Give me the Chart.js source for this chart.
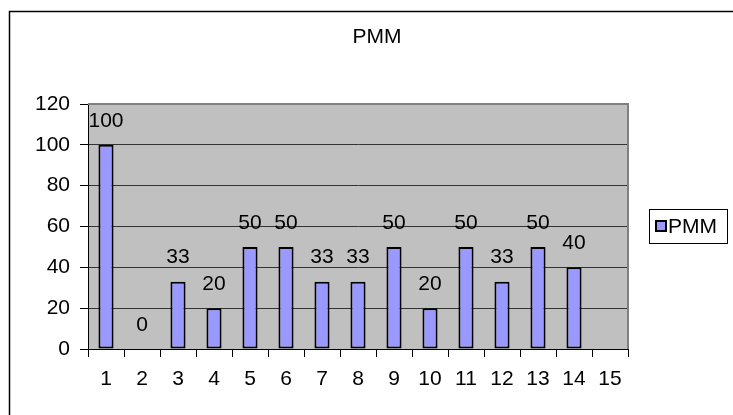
<!DOCTYPE html>
<html>
<head>
<meta charset="utf-8">
<script src="https://cdn.jsdelivr.net/npm/chart.js@4/dist/chart.umd.min.js"></script>
<style>
  html, body { margin: 0; padding: 0; background: #fff; }
  #wrap { width: 733px; height: 415px; position: relative; }
</style>
</head>
<body>
<div id="wrap"><canvas id="c" width="733" height="415"></canvas></div>
<script>
// Chart content
const chartTitle = 'PMM';
const seriesName = 'PMM';
const categories = ['1', '2', '3', '4', '5', '6', '7', '8', '9', '10', '11', '12', '13', '14', '15'];
const pmmValues = [100, 0, 33, 20, 50, 50, 33, 33, 50, 20, 50, 33, 50, 40, null];
const yTicks = [0, 20, 40, 60, 80, 100, 120];

const FONT = "'Liberation Sans', Arial, sans-serif";
const FONT_SIZE = 21;
const PLOT_BG = '#C0C0C0';
const BAR_FILL = '#9999FF';

// Page background, outer frame and plot-area fill
const backdrop = {
  id: 'backdrop',
  beforeDraw(chart) {
    const { ctx, chartArea: a } = chart;
    ctx.save();
    ctx.fillStyle = '#fff';
    ctx.fillRect(0, 0, chart.width, chart.height);
    ctx.strokeStyle = '#000';
    ctx.lineWidth = 1.5;
    ctx.beginPath();
    ctx.moveTo(9.5, chart.height + 5);
    ctx.lineTo(9.5, 11.5);
    ctx.lineTo(chart.width + 5, 11.5);
    ctx.stroke();
    ctx.fillStyle = PLOT_BG;
    ctx.fillRect(a.left, a.top, a.right - a.left, a.bottom - a.top);
    ctx.restore();
  }
};

// Value labels above each bar
const valueLabels = {
  id: 'valueLabels',
  afterDatasetsDraw(chart) {
    const { ctx } = chart;
    const meta = chart.getDatasetMeta(0);
    const yScale = chart.scales.y;
    ctx.save();
    ctx.font = FONT_SIZE + 'px ' + FONT;
    ctx.fillStyle = '#000';
    ctx.textAlign = 'center';
    ctx.textBaseline = 'middle';
    meta.data.forEach((bar, i) => {
      const v = pmmValues[i];
      if (v === null || v === undefined) return;
      ctx.fillText(String(v), bar.x, yScale.getPixelForValue(v) - 24);
    });
    ctx.restore();
  }
};

// Plot frame, title and legend box
const decorations = {
  id: 'decorations',
  afterDraw(chart) {
    const { ctx, chartArea: a } = chart;
    ctx.save();
    // grey frame on the top and right of the plot area
    ctx.strokeStyle = '#808080';
    ctx.lineWidth = 2;
    ctx.beginPath();
    ctx.moveTo(a.left, a.top);
    ctx.lineTo(a.right, a.top);
    ctx.lineTo(a.right, a.bottom);
    ctx.stroke();

    // title
    ctx.fillStyle = '#000';
    ctx.font = FONT_SIZE + 'px ' + FONT;
    ctx.textAlign = 'center';
    ctx.textBaseline = 'middle';
    ctx.fillText(chartTitle, 377, 37);

    // legend
    ctx.fillStyle = '#fff';
    ctx.fillRect(649.5, 209.5, 78, 34);
    ctx.strokeStyle = '#000';
    ctx.lineWidth = 1;
    ctx.strokeRect(649.5, 209.5, 78, 34);
    ctx.fillStyle = BAR_FILL;
    ctx.fillRect(656, 221, 10, 10);
    ctx.lineWidth = 2;
    ctx.strokeRect(656, 221, 10, 10);
    ctx.fillStyle = '#000';
    ctx.textAlign = 'left';
    ctx.fillText(seriesName, 668, 227);
    ctx.restore();
  }
};

new Chart(document.getElementById('c'), {
  type: 'bar',
  data: {
    labels: categories,
    datasets: [{
      label: seriesName,
      data: pmmValues,
      backgroundColor: BAR_FILL,
      borderColor: '#000',
      borderWidth: 2,
      borderSkipped: false,
      categoryPercentage: 1,
      barPercentage: 0.42
    }]
  },
  options: {
    responsive: false,
    animation: false,
    events: [],
    layout: { padding: { top: 104, right: 105, bottom: 0, left: 0 } },
    plugins: {
      legend: { display: false },
      title: { display: false },
      tooltip: { enabled: false }
    },
    scales: {
      x: {
        offset: true,
        grid: {
          offset: true,
          drawOnChartArea: false,
          drawTicks: true,
          tickLength: 8,
          tickColor: '#000',
          tickWidth: 1
        },
        border: { color: '#000', width: 1 },
        ticks: {
          color: '#000',
          font: { family: FONT, size: FONT_SIZE },
          padding: 10,
          maxRotation: 0,
          autoSkip: false
        },
        afterFit(s) { s.height = 66; }
      },
      y: {
        min: 0,
        max: 120,
        afterBuildTicks(s) { s.ticks = yTicks.map(v => ({ value: v })); },
        grid: {
          color: ctx => (ctx.tick && ctx.tick.value === 120) ? '#808080' : '#333',
          lineWidth: 1,
          drawTicks: true,
          tickLength: 8,
          tickColor: '#000'
        },
        border: { color: '#000', width: 1 },
        ticks: {
          color: '#000',
          font: { family: FONT, size: FONT_SIZE },
          padding: 10
        },
        afterFit(s) { s.width = 88; }
      }
    }
  },
  plugins: [backdrop, valueLabels, decorations]
});
</script>
</body>
</html>
